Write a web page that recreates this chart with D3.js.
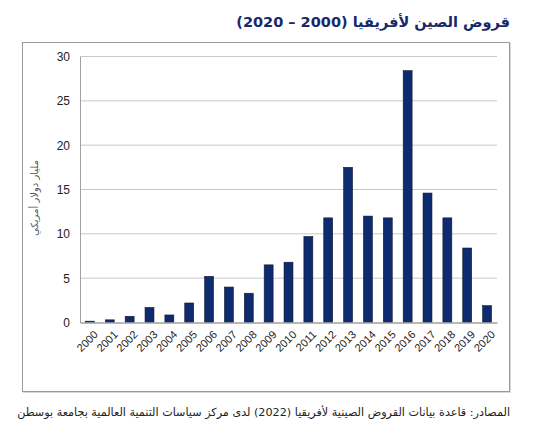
<!DOCTYPE html>
<html><head><meta charset="utf-8">
<script src="https://cdn.jsdelivr.net/npm/d3@7"></script>
<style>body{margin:0;background:#fff}svg{display:block}</style>
</head><body>
<svg id="c" width="556" height="429"></svg>
<script>
const years = ["2000","2001","2002","2003","2004","2005","2006","2007","2008","2009","2010","2011","2012","2013","2014","2015","2016","2017","2018","2019","2020"];
const loans = [0.15,0.3,0.7,1.7,0.85,2.2,5.2,4.0,3.3,6.5,6.8,9.7,11.8,17.5,12.0,11.8,28.4,14.6,11.8,8.4,1.9];
const yTicks = [0,5,10,15,20,25,30];
const titleText = "قروض الصين لأفريقيا (2000 – 2020)";
const yLabel = "مليار دولار أمريكي";
const sourceText = "المصادر: قاعدة بيانات القروض الصينية لأفريقيا (2022) لدى مركز سياسات التنمية العالمية بجامعة بوسطن";

const svg = d3.select("#c");
const m = {l:80, r:497, t:56.5, b:322.5};

// frame
svg.append("rect").attr("x",23.5).attr("y",43.5).attr("width",487).attr("height",349)
  .attr("fill","none").attr("stroke","#d8d8d8").attr("stroke-width",1);
svg.append("rect").attr("x",22.5).attr("y",42.5).attr("width",487).attr("height",349)
  .attr("fill","#fff").attr("stroke","#9a9a9a").attr("stroke-width",1);

const x = d3.scaleBand().domain(years).range([m.l, m.r]).paddingInner(0.55).paddingOuter(0.275);
const y = d3.scaleLinear().domain([0,30]).range([m.b, m.t]);

// grid
svg.append("g").selectAll("line").data(yTicks.filter(d=>d>0)).join("line")
  .attr("x1",m.l).attr("x2",m.r).attr("y1",d=>y(d)).attr("y2",d=>y(d))
  .attr("stroke","#c8c8c8").attr("stroke-width",1);

// y axis
const ya = svg.append("g").attr("transform",`translate(${m.l},0)`)
  .call(d3.axisLeft(y).tickValues(yTicks).tickSize(0).tickPadding(10));
ya.select(".domain").attr("stroke","#a0a0a0");
ya.selectAll("text").attr("font-family","Liberation Sans, Arial, sans-serif").attr("font-size",12).attr("fill","#222");

// bars
svg.append("g").selectAll("rect").data(loans).join("rect")
  .attr("x",(d,i)=>x(years[i])).attr("width",x.bandwidth())
  .attr("y",d=>y(d)).attr("height",d=>y(0)-y(d))
  .attr("fill","#0d2b6e").attr("stroke","#101830").attr("stroke-width",0.6);

// x axis
const xa = svg.append("g").attr("transform",`translate(0,${m.b})`)
  .call(d3.axisBottom(x).tickSize(0));
xa.select(".domain").attr("stroke","#a0a0a0").attr("stroke-width",1.3);
xa.selectAll("text").attr("font-family","Liberation Sans, Arial, sans-serif").attr("font-size",11).attr("fill","#222")
  .attr("x",0).attr("y",0).attr("dy","0.35em")
  .attr("text-anchor","end")
  .attr("transform","translate(6,10) rotate(-45)");

// y label
svg.append("text").attr("transform","translate(38,198) rotate(-90)")
  .attr("text-anchor","middle").attr("font-family","DejaVu Sans, sans-serif").attr("font-size",10).attr("fill","#555")
  .attr("direction","rtl").text(yLabel);

// title
svg.append("text").attr("x",510).attr("y",27).attr("text-anchor","start").attr("direction","rtl")
  .attr("font-family","DejaVu Sans, sans-serif").attr("font-weight","bold").attr("font-size",14.5).attr("fill","#16296b")
  .text(titleText);

// source
svg.append("text").attr("x",510).attr("y",416).attr("text-anchor","start").attr("direction","rtl")
  .attr("font-family","DejaVu Sans, sans-serif").attr("font-size",11.2).attr("fill","#222")
  .text(sourceText);
</script>
</body></html>
